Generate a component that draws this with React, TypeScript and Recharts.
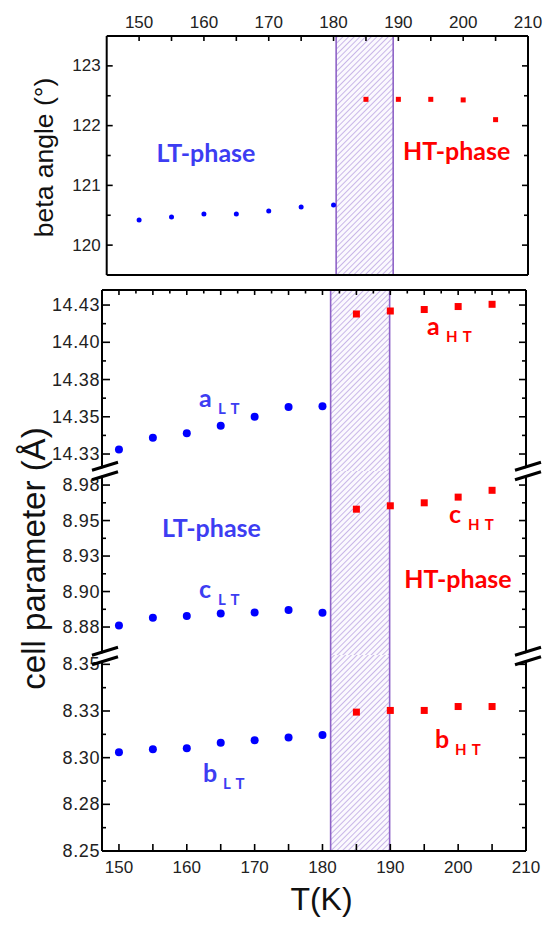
import React from "react";
import {
  ReferenceArea,
  ReferenceLine,
  Scatter,
  ScatterChart,
  XAxis,
  YAxis,
} from "recharts";

// temperatures (K)
const ltTemps = [150, 155, 160, 165, 170, 175, 180];
const htTemps = [185, 190, 195, 200, 205];

// beta angle (deg)
const betaLT = [120.42, 120.47, 120.52, 120.52, 120.57, 120.64, 120.67];
const betaHT = [122.44, 122.44, 122.44, 122.43, 122.1];

// cell parameters (Å)
const aLT = [14.328, 14.336, 14.339, 14.344, 14.35, 14.3566, 14.357];
const aHT = [14.419, 14.421, 14.422, 14.424, 14.4255];
const cLT = [8.876, 8.8816, 8.8828, 8.8846, 8.8853, 8.887, 8.885];
const cHT = [8.958, 8.9604, 8.9625, 8.9665, 8.9713];
const bLT = [8.3029, 8.3045, 8.305, 8.308, 8.3093, 8.3108, 8.3122];
const bHT = [8.3244, 8.3253, 8.3253, 8.3274, 8.3274];

// transition window
const transTop = [180.4, 189.2];
const transBottom = [181.2, 189.9];

// ticks
const topXTicks = [150, 155, 160, 165, 170, 175, 180, 185, 190, 195, 200, 205, 210];
const xMajors = [150, 160, 170, 180, 190, 200, 210];
const xLabels = ["150", "160", "170", "180", "190", "200", "210"];
const seg1XTicks = [
  150, 152.5, 155, 157.5, 160, 162.5, 165, 167.5, 170, 172.5, 175, 177.5, 180,
  182.5, 185, 187.5, 190, 192.5, 195, 197.5, 200, 202.5, 205, 207.5,
];
const seg1XMajors = [150, 155, 160, 165, 170, 175, 180, 185, 190, 195, 200, 205];

const betaTicks = [120, 120.5, 121, 121.5, 122, 122.5, 123];
const betaMajors = [120, 121, 122, 123];
const betaLabels = ["120", "121", "122", "123"];

const aTicks = [14.325, 14.3375, 14.35, 14.3625, 14.375, 14.3875, 14.4, 14.4125, 14.425];
const aMajors = [14.325, 14.35, 14.375, 14.4, 14.425];
const aLabels = ["14.33", "14.35", "14.38", "14.40", "14.43"];

const cTicks = [8.875, 8.8875, 8.9, 8.9125, 8.925, 8.9375, 8.95, 8.9625, 8.975];
const cMajors = [8.875, 8.9, 8.925, 8.95, 8.975];
const cLabels = ["8.88", "8.90", "8.93", "8.95", "8.98"];

const bTicks = [8.25, 8.2625, 8.275, 8.2875, 8.3, 8.3125, 8.325, 8.3375, 8.35];
const bMajors = [8.25, 8.275, 8.3, 8.325, 8.35];
const bLabels = ["8.25", "8.28", "8.30", "8.33", "8.35"];

const BLUE = "#0000ff";
const RED = "#ff0000";
const TXT_BLUE = "#3d3df2";
const PURPLE = "#8e63c7";
const ARIAL = "'Liberation Sans', Arial, sans-serif";
const LABEL_FONT = "Lato, 'Open Sans', sans-serif";

const pts = (xs: number[], ys: number[]) => xs.map((x, i) => ({ x, y: ys[i] }));

type Side = "left" | "right" | "top" | "bottom";
type TickSpec = {
  side: Side;
  majors: number[];
  labels?: string[];
  major: number;
  minor: number;
  font?: number;
  gap?: number;
  spacing?: number;
};

function makeTick(spec: TickSpec) {
  return (props: any) => {
    const { x, y, payload } = props;
    const v = payload.value as number;
    const idx = spec.majors.findIndex((m) => Math.abs(m - v) < 1e-6);
    const len = idx >= 0 ? spec.major : spec.minor;
    const label = idx >= 0 && spec.labels ? spec.labels[idx] : null;
    const gap = spec.gap ?? 4;
    const textProps = {
      fontFamily: ARIAL,
      fontSize: spec.font ?? 17,
      fill: "#222",
      letterSpacing: spec.spacing ?? 0,
    };
    if (spec.side === "left") {
      return (
        <g>
          <line x1={x} y1={y} x2={x + len} y2={y} stroke="#000" strokeWidth={1.6} />
          {label && (
            <text x={x - gap} y={y} textAnchor="end" dominantBaseline="central" {...textProps}>
              {label}
            </text>
          )}
        </g>
      );
    }
    if (spec.side === "right") {
      return <line x1={x} y1={y} x2={x - len} y2={y} stroke="#000" strokeWidth={1.6} />;
    }
    if (spec.side === "top") {
      return (
        <g>
          <line x1={x} y1={y} x2={x} y2={y + len} stroke="#000" strokeWidth={1.6} />
          {label && (
            <text x={x} y={y - gap} textAnchor="middle" {...textProps}>
              {label}
            </text>
          )}
        </g>
      );
    }
    return (
      <g>
        <line x1={x} y1={y} x2={x} y2={y - len} stroke="#000" strokeWidth={1.6} />
        {label && (
          <text x={x} y={y + gap} textAnchor="middle" {...textProps}>
            {label}
          </text>
        )}
      </g>
    );
  };
}

const dot = (r: number) => (p: any) => <circle cx={p.cx} cy={p.cy} r={r} fill={BLUE} />;
const square = (s: number) => (p: any) => (
  <rect x={p.cx - s / 2} y={p.cy - s / 2} width={s} height={s} fill={RED} />
);

const axisLine = { stroke: "#000", strokeWidth: 2 };

// light lavender diagonal hatch for the transition window
function Hatch({ id }: { id: string }) {
  return (
    <defs>
      <pattern
        id={id}
        patternUnits="userSpaceOnUse"
        width={4}
        height={4}
        patternTransform="rotate(45)"
      >
        <rect width={4} height={4} fill="#fbf9fe" />
        <line x1={0.5} y1={0} x2={0.5} y2={4} stroke="#c9b7e8" strokeWidth={1} />
      </pattern>
    </defs>
  );
}

function TopPanel() {
  return (
    <div style={{ position: "absolute", left: 0, top: 0 }}>
      <ScatterChart width={549} height={290} margin={{ top: 0, right: 0, bottom: 0, left: 0 }}>
        <Hatch id="hatchTop" />
        <XAxis
          type="number"
          dataKey="x"
          orientation="top"
          domain={[145, 210]}
          allowDataOverflow
          ticks={topXTicks}
          interval={0}
          height={36}
          tickSize={0}
          tickMargin={0}
          tickLine={false}
          axisLine={axisLine}
          tick={makeTick({ side: "top", majors: xMajors, labels: xLabels, major: 5, minor: 5, gap: 8 })}
        />
        <XAxis
          xAxisId="b"
          type="number"
          orientation="bottom"
          domain={[145, 210]}
          allowDataOverflow
          height={15}
          tick={false}
          tickLine={false}
          axisLine={axisLine}
        />
        <YAxis
          type="number"
          dataKey="y"
          domain={[119.5, 123.5]}
          allowDataOverflow
          ticks={betaTicks}
          interval={0}
          width={106.7}
          tickSize={0}
          tickMargin={0}
          tickLine={false}
          axisLine={axisLine}
          tick={makeTick({ side: "left", majors: betaMajors, labels: betaLabels, major: 6, minor: 4, gap: 6 })}
        />
        <YAxis
          yAxisId="r"
          type="number"
          orientation="right"
          domain={[119.5, 123.5]}
          allowDataOverflow
          ticks={betaTicks}
          interval={0}
          width={21}
          tickSize={0}
          tickMargin={0}
          tickLine={false}
          axisLine={axisLine}
          tick={makeTick({ side: "right", majors: betaMajors, major: 6, minor: 4 })}
        />
        <ReferenceArea x1={transTop[0]} x2={transTop[1]} fill="url(#hatchTop)" fillOpacity={1} stroke="none" />
        <ReferenceLine x={transTop[0]} stroke={PURPLE} strokeWidth={1.6} />
        <ReferenceLine x={transTop[1]} stroke={PURPLE} strokeWidth={1.6} />
        <Scatter data={pts(ltTemps, betaLT)} shape={dot(2.5)} isAnimationActive={false} />
        <Scatter data={pts(htTemps, betaHT)} shape={square(5)} isAnimationActive={false} />
      </ScatterChart>
    </div>
  );
}

type SegProps = {
  id: string;
  top: number;
  height: number;
  domain: [number, number];
  ticks: number[];
  majors: number[];
  labels: string[];
  lt: number[];
  ht: number[];
  axis: "top" | "bottom" | "none";
};

function Segment({ id, top, height, domain, ticks, majors, labels, lt, ht, axis }: SegProps) {
  return (
    <div style={{ position: "absolute", left: 0, top }}>
      <ScatterChart width={549} height={height} margin={{ top: 0, right: 0, bottom: 0, left: 0 }}>
        <Hatch id={id} />
        {axis === "top" && (
          <XAxis
            type="number"
            dataKey="x"
            orientation="top"
            domain={[147.5, 210]}
            allowDataOverflow
            ticks={seg1XTicks}
            interval={0}
            height={10}
            tickSize={0}
            tickMargin={0}
            tickLine={false}
            axisLine={axisLine}
            tick={makeTick({ side: "top", majors: seg1XMajors, major: 5, minor: 3.5 })}
          />
        )}
        {axis === "bottom" && (
          <XAxis
            type="number"
            dataKey="x"
            orientation="bottom"
            domain={[147.5, 210]}
            allowDataOverflow
            ticks={topXTicks}
            interval={0}
            height={74}
            tickSize={0}
            tickMargin={0}
            tickLine={false}
            axisLine={axisLine}
            tick={makeTick({ side: "bottom", majors: xMajors, labels: xLabels, major: 7, minor: 7, gap: 22 })}
          />
        )}
        {axis === "none" && (
          <XAxis type="number" dataKey="x" domain={[147.5, 210]} allowDataOverflow hide />
        )}
        <YAxis
          type="number"
          dataKey="y"
          domain={domain}
          allowDataOverflow
          ticks={ticks}
          interval={0}
          width={102}
          tickSize={0}
          tickMargin={0}
          tickLine={false}
          axisLine={axisLine}
          tick={makeTick({
            side: "left",
            majors,
            labels,
            major: 8,
            minor: 4,
            gap: 2,
            font: 18,
            spacing: 0.6,
          })}
        />
        <YAxis
          yAxisId="r"
          type="number"
          orientation="right"
          domain={domain}
          allowDataOverflow
          ticks={ticks}
          interval={0}
          width={23}
          tickSize={0}
          tickMargin={0}
          tickLine={false}
          axisLine={axisLine}
          tick={makeTick({ side: "right", majors, major: 7, minor: 4 })}
        />
        <ReferenceArea x1={transBottom[0]} x2={transBottom[1]} fill={`url(#${id})`} fillOpacity={1} stroke="none" />
        <ReferenceLine x={transBottom[0]} stroke={PURPLE} strokeWidth={1.6} />
        <ReferenceLine x={transBottom[1]} stroke={PURPLE} strokeWidth={1.6} />
        <Scatter data={pts(ltTemps, lt)} shape={dot(4)} isAnimationActive={false} />
        <Scatter data={pts(htTemps, ht)} shape={square(7)} isAnimationActive={false} />
      </ScatterChart>
    </div>
  );
}

function Sub({ x, y, main, sub, color }: { x: number; y: number; main: string; sub: string; color: string }) {
  return (
    <text fontFamily={LABEL_FONT} fontWeight={700} fill={color}>
      <tspan x={x} y={y} fontSize={25}>
        {main}
      </tspan>
      <tspan x={x + (main === "a" || main === "c" ? 19 : 20)} y={y + 7} fontSize={15} letterSpacing={1}>
        {sub}
      </tspan>
    </text>
  );
}

function Break({ cx, cy }: { cx: number; cy: number }) {
  return (
    <g>
      <line x1={cx - 6} y1={cy + 2} x2={cx + 6} y2={cy - 2} stroke="#fff" strokeWidth={7} />
      <line x1={cx - 13} y1={cy - 4.75 + 4} x2={cx + 13} y2={cy - 4.75 - 4} stroke="#000" strokeWidth={3} />
      <line x1={cx - 13} y1={cy + 4.75 + 4} x2={cx + 13} y2={cy + 4.75 - 4} stroke="#000" strokeWidth={3} />
    </g>
  );
}

function Overlay() {
  return (
    <svg width={549} height={925} style={{ position: "absolute", left: 0, top: 0, pointerEvents: "none" }}>
      <text
        transform="translate(52.5,157.5) rotate(-90)"
        textAnchor="middle"
        fontFamily={ARIAL}
        fontSize={26.5}
        fill="#111"
      >
        beta angle (°)
      </text>
      <text
        transform="translate(45,558.5) rotate(-90)"
        textAnchor="middle"
        fontFamily={ARIAL}
        fontSize={33}
        fill="#111"
      >
        cell parameter (Å)
      </text>
      <text x={321.5} y={910} textAnchor="middle" fontFamily={ARIAL} fontSize={32} fill="#111">
        T(K)
      </text>

      <g fontFamily={LABEL_FONT} fontWeight={700} fontSize={25} textAnchor="middle">
        <text x={206} y={162} fill={TXT_BLUE}>LT-phase</text>
        <text x={456.6} y={160} fill={RED}>HT-phase</text>
        <text x={211.5} y={537} fill={TXT_BLUE}>LT-phase</text>
        <text x={458} y={588} fill={RED}>HT-phase</text>
      </g>

      <Sub x={199} y={407} main="a" sub="L T" color={TXT_BLUE} />
      <Sub x={427} y={335} main="a" sub="H T" color={RED} />
      <Sub x={449} y={523} main="c" sub="H T" color={RED} />
      <Sub x={199} y={598} main="c" sub="L T" color={TXT_BLUE} />
      <Sub x={435} y={748} main="b" sub="H T" color={RED} />
      <Sub x={203} y={782} main="b" sub="L T" color={TXT_BLUE} />

      <Break cx={105} cy={471} />
      <Break cx={528} cy={471} />
      <Break cx={105} cy={656} />
      <Break cx={528} cy={656} />
    </svg>
  );
}

export default function App() {
  return (
    <div
      style={{
        position: "absolute",
        left: 0,
        top: 0,
        width: 549,
        height: 925,
        background: "#fff",
        overflow: "hidden",
      }}
    >
      <TopPanel />
      <Segment
        id="hatchA"
        top={280}
        height={191}
        domain={[14.3136, 14.4351]}
        ticks={aTicks}
        majors={aMajors}
        labels={aLabels}
        lt={aLT}
        ht={aHT}
        axis="top"
      />
      <Segment
        id="hatchC"
        top={471}
        height={184}
        domain={[8.8553, 8.9849]}
        ticks={cTicks}
        majors={cMajors}
        labels={cLabels}
        lt={cLT}
        ht={cHT}
        axis="none"
      />
      <Segment
        id="hatchB"
        top={655}
        height={270}
        domain={[8.25, 8.355]}
        ticks={bTicks}
        majors={bMajors}
        labels={bLabels}
        lt={bLT}
        ht={bHT}
        axis="bottom"
      />
      <Overlay />
    </div>
  );
}
